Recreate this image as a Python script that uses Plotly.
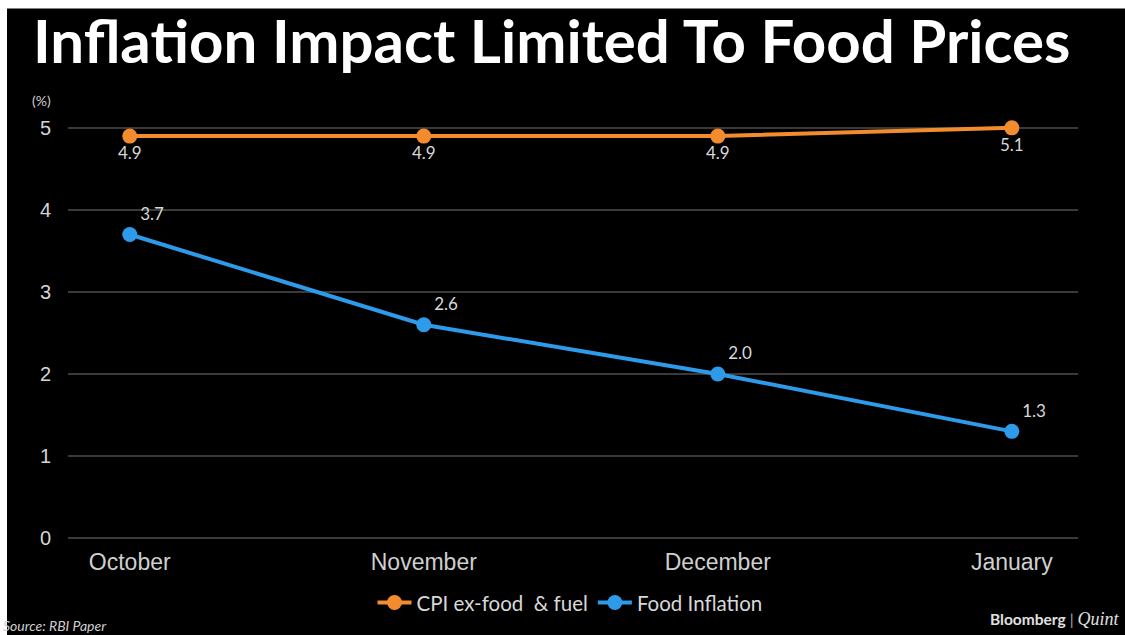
import plotly.graph_objects as go

months = ["October", "November", "December", "January"]
cpi_values = [4.9, 4.9, 4.9, 5.0]
cpi_labels = ["4.9", "4.9", "4.9", "5.1"]
food_values = [3.7, 2.6, 2.0, 1.3]
food_labels = ["3.7", "2.6", "2.0", "1.3"]
y_ticks = [0, 1, 2, 3, 4, 5]

x_idx = list(range(len(months)))

W, H = 1125, 635
L, R, T, B = 68, 47, 100, 95
PW, PH = W - L - R, H - T - B


def px_x(p):
    return (p - L) / PW


def px_y(p):
    return (H - B - p) / PH


fig = go.Figure()

fig.add_trace(go.Scatter(
    x=x_idx, y=cpi_values, mode="lines+markers+text",
    name="CPI ex-food  & fuel",
    line=dict(color="#F28C2E", width=4),
    marker=dict(color="#F28C2E", size=15),
    text=cpi_labels, textposition="bottom center",
    textfont=dict(family="Lato", size=17, color="#d8d8d8"),
))
fig.add_trace(go.Scatter(
    x=x_idx, y=food_values, mode="lines+markers+text",
    name="Food Inflation",
    line=dict(color="#2D9BEA", width=4),
    marker=dict(color="#2D9BEA", size=15),
    text=food_labels, textposition="top right",
    textfont=dict(family="Lato", size=17, color="#d8d8d8"),
))

fig.update_layout(
    width=W, height=H,
    margin=dict(l=L, r=R, t=T, b=B),
    paper_bgcolor="white",
    plot_bgcolor="black",
    showlegend=True,
    legend=dict(
        orientation="h", x=px_x(570), xanchor="center", y=px_y(605), yanchor="middle",
        font=dict(family="Lato", size=20.5, color="#d8d8d8"),
        bgcolor="rgba(0,0,0,0)", itemwidth=34, tracegroupgap=0,
    ),
    xaxis=dict(
        range=[-0.21, 3.225],
        tickvals=x_idx, ticktext=months,
        showgrid=False, zeroline=False, showline=False,
        ticks="", ticklabelstandoff=8,
        tickfont=dict(family="Liberation Sans", size=23, color="#cfcfcf"),
    ),
    yaxis=dict(
        range=[0, 440 / 82.4],
        tickvals=y_ticks,
        showgrid=True, gridcolor="#3a3a3a", gridwidth=2,
        zeroline=True, zerolinecolor="#3a3a3a", zerolinewidth=2,
        showline=False, ticks="", ticklabelstandoff=16,
        tickfont=dict(family="Liberation Sans", size=20, color="#d5d5d5"),
    ),
    shapes=[dict(
        type="rect", xref="paper", yref="paper", layer="below",
        x0=px_x(7), x1=px_x(W + 5), y0=px_y(H + 5), y1=px_y(8),
        fillcolor="black", line=dict(width=0),
    )],
    annotations=[
        dict(text="<b>Inflation Impact Limited To Food Prices</b>",
             xref="paper", yref="paper", x=px_x(31), y=px_y(2),
             xanchor="left", yanchor="top", showarrow=False,
             font=dict(family="Lato", size=60, color="white")),
        dict(text="(%)", xref="paper", yref="paper", x=px_x(30), y=px_y(101),
             xanchor="left", yanchor="middle", showarrow=False,
             font=dict(family="Lato", size=14, color="#cfcfcf")),
        dict(text="<i>Source: RBI Paper</i>", xref="paper", yref="paper",
             x=px_x(1), y=px_y(628), xanchor="left", yanchor="middle", showarrow=False,
             font=dict(family="Lato", size=14, color="#cfcfcf")),
        dict(text="<b>Bloomberg</b> <span style='color:#aaaaaa'>|</span> "
                  "<span style='font-family:Liberation Serif;font-size:18px'><i>Quint</i></span>",
             xref="paper", yref="paper", x=px_x(1122), y=px_y(621),
             xanchor="right", yanchor="middle", showarrow=False,
             font=dict(family="Lato", size=15.5, color="#e0e0e0")),
    ],
)

fig.write_html("out.html")
